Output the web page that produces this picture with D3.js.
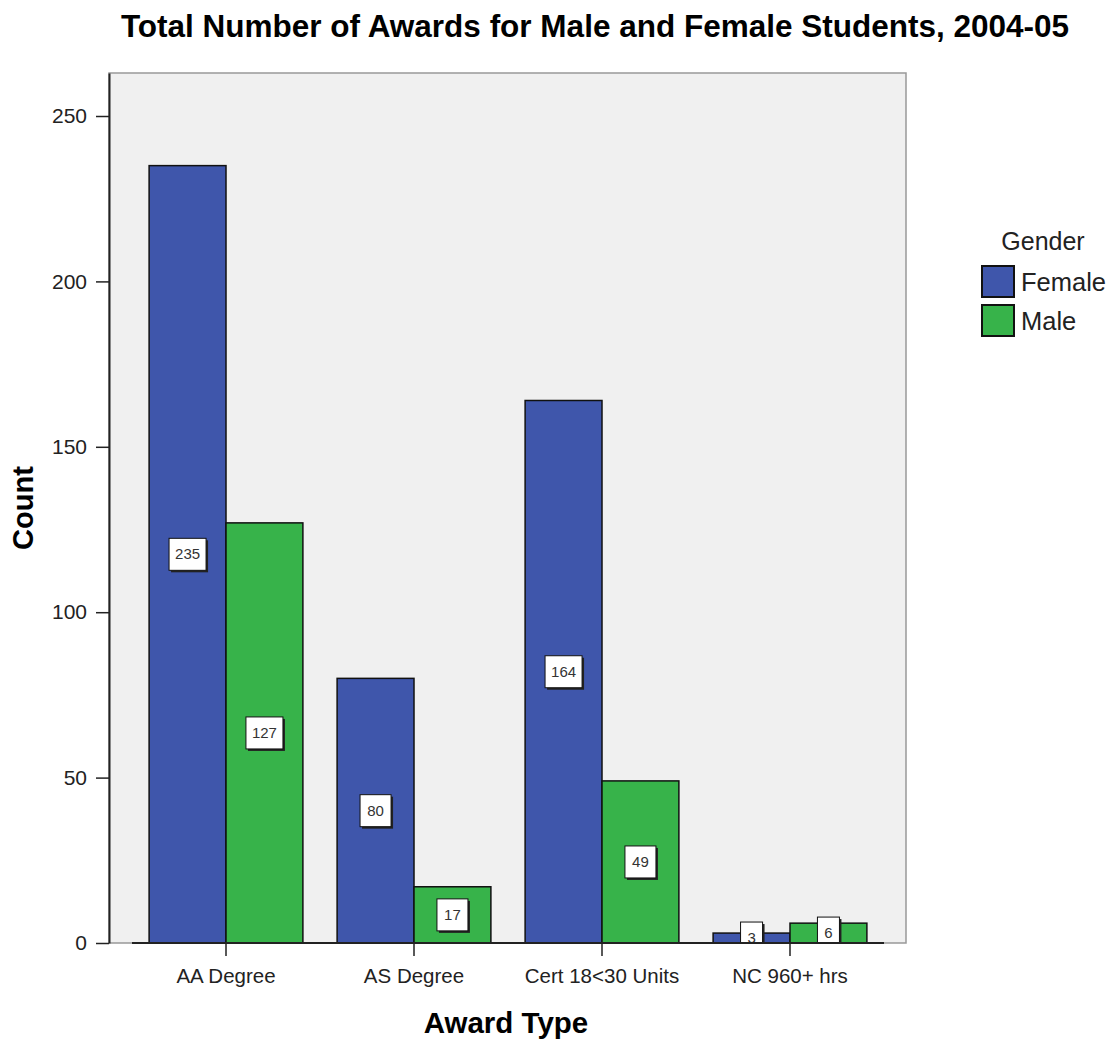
<!DOCTYPE html>
<html>
<head>
<meta charset="utf-8">
<script src="https://d3js.org/d3.v7.min.js"></script>
<style>
  body { margin: 0; background: #fff; }
  svg text { font-family: "Liberation Sans", Arial, sans-serif; }
</style>
</head>
<body>
<svg width="1112" height="1042"></svg>
<script>
var categories = ["AA Degree", "AS Degree", "Cert 18<30 Units", "NC 960+ hrs"];
var genders = ["Female", "Male"];
var femaleCounts = [235, 80, 164, 3];
var maleCounts = [127, 17, 49, 6];
var yTicks = [0, 50, 100, 150, 200, 250];
var colors = {Female: "#3f56ab", Male: "#37b34a"};

var svg = d3.select("svg");
var pLeft = 109, pRight = 906, pTop = 73, pBottom = 943;

var data = [];
categories.forEach(function(c, i) {
  data.push({cat: c, gender: "Female", value: femaleCounts[i]});
  data.push({cat: c, gender: "Male", value: maleCounts[i]});
});

var x = d3.scaleBand().domain(categories).range([132, 884])
  .paddingInner(0.182).paddingOuter(0.091);
var xs = d3.scaleBand().domain(genders).range([0, x.bandwidth()]);
var y = d3.scaleLinear().domain([0, 263]).range([pBottom, pTop]);

// title
svg.append("text")
  .attr("x", 595).attr("y", 37)
  .attr("text-anchor", "middle")
  .style("font-size", "31.5px").style("font-weight", "bold")
  .text("Total Number of Awards for Male and Female Students, 2004-05");

// plot background
svg.append("rect")
  .attr("x", pLeft).attr("y", pTop)
  .attr("width", pRight - pLeft).attr("height", pBottom - pTop)
  .attr("fill", "#f0f0f0").attr("stroke", "#999").attr("stroke-width", 1.5);

svg.append("defs").append("clipPath").attr("id", "plotclip")
  .append("rect").attr("x", pLeft).attr("y", pTop)
  .attr("width", pRight - pLeft).attr("height", pBottom - pTop);

// bars
svg.append("g").selectAll("rect")
  .data(data).enter().append("rect")
  .attr("x", function(d) { return x(d.cat) + xs(d.gender); })
  .attr("y", function(d) { return y(d.value); })
  .attr("width", xs.bandwidth())
  .attr("height", function(d) { return y(0) - y(d.value); })
  .attr("fill", function(d) { return colors[d.gender]; })
  .attr("stroke", "#111").attr("stroke-width", 1.5);

// value labels
function boxW(d) {
  var n = String(d.value).length;
  return n > 2 ? 37 : (n > 1 ? 31 : 22);
}
var lab = svg.append("g").attr("clip-path", "url(#plotclip)")
  .selectAll("g").data(data).enter().append("g")
  .attr("transform", function(d) {
    return "translate(" + (x(d.cat) + xs(d.gender) + xs.bandwidth() / 2) + "," + y(d.value / 2) + ")";
  });
lab.append("rect")
  .attr("x", function(d) { return -boxW(d) / 2 + 2; })
  .attr("y", -14)
  .attr("width", boxW)
  .attr("height", 32)
  .attr("fill", "#222");
lab.append("rect")
  .attr("x", function(d) { return -boxW(d) / 2; })
  .attr("y", -16)
  .attr("width", boxW)
  .attr("height", 32)
  .attr("fill", "#fff").attr("stroke", "#111").attr("stroke-width", 1);
lab.append("text")
  .attr("x", 0).attr("y", 5)
  .attr("text-anchor", "middle")
  .style("font-size", "15px").attr("fill", "#333")
  .text(function(d) { return d.value; });

// y axis
var ya = svg.append("g").attr("transform", "translate(" + pLeft + ",0)")
  .call(d3.axisLeft(y).tickValues(yTicks).tickSize(13).tickSizeOuter(0).tickPadding(9));
ya.select(".domain").attr("stroke", "#222").attr("stroke-width", 2);
ya.selectAll(".tick line").attr("stroke", "#222").attr("stroke-width", 1.5);
ya.selectAll(".tick text").style("font-size", "21px").attr("fill", "#222")
  .style("font-family", "Liberation Sans, Arial, sans-serif");

// x axis
var xa = svg.append("g").attr("transform", "translate(0," + pBottom + ")")
  .call(d3.axisBottom(x).tickSize(13).tickPadding(12));
xa.select(".domain").attr("stroke", "#222").attr("stroke-width", 2)
  .attr("d", "M132,0H884");
xa.selectAll(".tick line").attr("stroke", "#222").attr("stroke-width", 1.5);
xa.selectAll(".tick text").style("font-size", "20.5px").attr("fill", "#222")
  .style("font-family", "Liberation Sans, Arial, sans-serif");

// axis titles
svg.append("text")
  .attr("x", 506).attr("y", 1033)
  .attr("text-anchor", "middle")
  .style("font-size", "29.5px").style("font-weight", "bold")
  .text("Award Type");
svg.append("text")
  .attr("transform", "translate(33,508) rotate(-90)")
  .attr("text-anchor", "middle")
  .style("font-size", "29px").style("font-weight", "bold")
  .text("Count");

// legend
var lg = svg.append("g");
lg.append("text").attr("x", 1043).attr("y", 250)
  .attr("text-anchor", "middle")
  .style("font-size", "25px").attr("fill", "#222")
  .text("Gender");
var li = lg.selectAll("g").data(genders).enter().append("g")
  .attr("transform", function(d, i) { return "translate(982," + (266 + i * 39) + ")"; });
li.append("rect").attr("width", 32).attr("height", 31)
  .attr("fill", function(d) { return colors[d]; })
  .attr("stroke", "#111").attr("stroke-width", 2);
li.append("text").attr("x", 39).attr("y", 25)
  .style("font-size", "25.5px").attr("fill", "#222")
  .text(function(d) { return d; });
</script>
</body>
</html>
